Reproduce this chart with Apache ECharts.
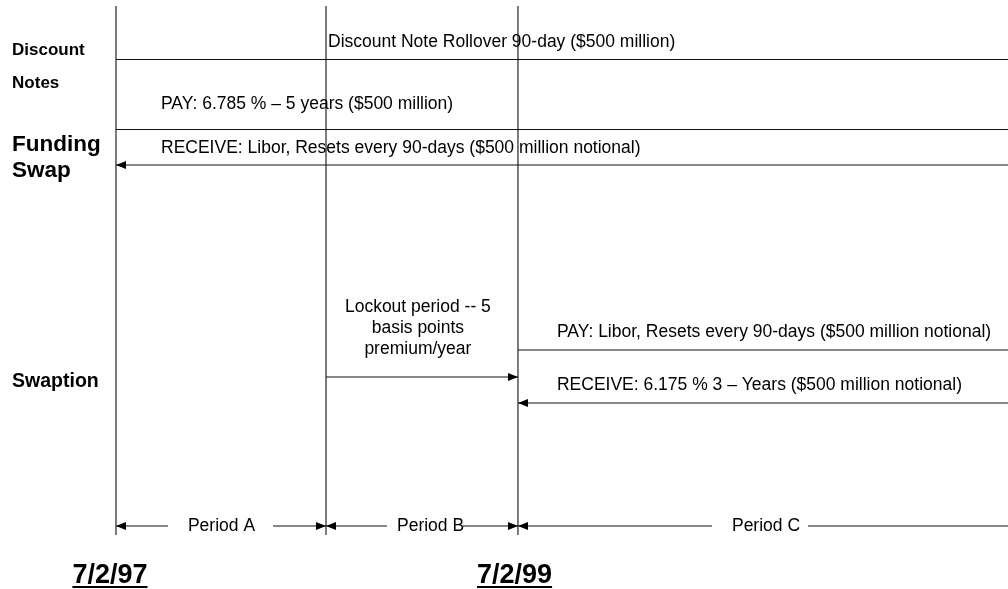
<!DOCTYPE html>
<html>
<head>
<meta charset="utf-8">
<script src="https://cdn.jsdelivr.net/npm/echarts@6/dist/echarts.min.js"></script>
<style>
  html, body { margin: 0; padding: 0; background: #fff; }
  #main { width: 1008px; height: 589px; }
</style>
</head>
<body>
<div id="main"></div>
<script>
// x: years after 7/2/97, y: row position from top of the diagram
var xMin = -0.577, xMax = 4.438;
var yTop = 0, yBottom = 589;

var timeMarks = [0, 1.045, 2];          // 7/2/97, end of period A, 7/2/99
var markTop = 6, markBottom = 535;

// plain segments [x1, y1, x2, y2]
var plainLines = [
    [0, 59.5, xMax, 59.5],              // discount notes
    [0, 129.5, xMax, 129.5],            // funding swap pay
    [2, 350, xMax, 350],                // swaption pay
    [3.443, 526, xMax, 526]             // period C right part
];
// arrows, head at (x2, y2)
var arrowLines = [
    [xMax, 165, 0, 165],                // funding swap receive
    [1.045, 377, 2, 377],               // lockout
    [xMax, 403, 2, 403],                // swaption receive
    [0.259, 526, 0, 526],
    [0.781, 526, 1.045, 526],
    [1.348, 526, 1.045, 526],
    [1.726, 526, 2, 526],
    [2.965, 526, 2, 526]
];

var rowLabels = ['Discount', 'Notes', 'Funding', 'Swap', 'Swaption'];
var rowLabelY = [50, 83, 145, 171, 382];
var rowLabelSize = [17, 17, 22.5, 22.5, 19.5];
var rowLabelX = -0.517;

// [x, y, text, align]
var notes = [
    [1.055, 42.5, 'Discount Note Rollover 90-day ($500 million)', 'left'],
    [0.224, 104, 'PAY: 6.785 % \u2013 5 years ($500 million)', 'left'],
    [0.224, 148, 'RECEIVE: Libor, Resets every 90-days ($500 million notional)', 'left'],
    [1.502, 307, 'Lockout period -- 5', 'center'],
    [1.502, 328, 'basis points', 'center'],
    [1.502, 349, 'premium/year', 'center'],
    [2.194, 332, 'PAY: Libor, Resets every 90-days ($500 million notional)', 'left'],
    [2.194, 385.5, 'RECEIVE: 6.175 % 3 \u2013 Years ($500 million notional)', 'left'],
    [0.525, 526, 'Period A', 'center'],
    [1.565, 526, 'Period B', 'center'],
    [3.234, 526, 'Period C', 'center']
];

var dateLabels = ['7/2/97', '7/2/99'];
var dateX = [-0.03, 1.983];
var dateY = 576;

var FONT = '"Liberation Sans", Arial, sans-serif';
var ink = '#111';

var segData = [];
timeMarks.forEach(function (x) { segData.push([x, markTop, x, markBottom, 0]); });
plainLines.forEach(function (s) { segData.push(s.concat([0])); });
arrowLines.forEach(function (s) { segData.push(s.concat([1])); });

var textData = [];
rowLabels.forEach(function (t, i) {
    textData.push({ value: [rowLabelX, rowLabelY[i]], text: t, font: 'bold ' + rowLabelSize[i] + 'px ' + FONT, align: 'left' });
});
notes.forEach(function (n) {
    textData.push({ value: [n[0], n[1]], text: n[2], font: '17.5px ' + FONT, align: n[3] });
});
dateLabels.forEach(function (t, i) {
    textData.push({ value: [dateX[i], dateY], text: t, font: 'bold 27px ' + FONT, align: 'center', underline: true });
});

var measureCtx = document.createElement('canvas').getContext('2d');

var myChart = echarts.init(document.getElementById('main'));

option = {
    animation: false,
    grid: { left: 0, right: 0, top: 0, bottom: 0 },
    xAxis: { type: 'value', min: xMin, max: xMax, show: false },
    yAxis: { type: 'value', min: yTop, max: yBottom, inverse: true, show: false },
    series: [{
        type: 'custom',
        data: segData,
        clip: false,
        renderItem: function (params, api) {
            var p1 = api.coord([api.value(0), api.value(1)]);
            var p2 = api.coord([api.value(2), api.value(3)]);
            var children = [{
                type: 'line',
                shape: { x1: p1[0], y1: p1[1], x2: p2[0], y2: p2[1] },
                style: { stroke: ink, lineWidth: 1.1 }
            }];
            if (api.value(4)) {
                var dx = p2[0] - p1[0], dy = p2[1] - p1[1];
                var len = Math.sqrt(dx * dx + dy * dy);
                var ux = dx / len, uy = dy / len;
                var hl = 10, hw = 4;
                var bx = p2[0] - ux * hl, by = p2[1] - uy * hl;
                children.push({
                    type: 'polygon',
                    shape: { points: [[p2[0], p2[1]], [bx - uy * hw, by + ux * hw], [bx + uy * hw, by - ux * hw]] },
                    style: { fill: '#000' }
                });
            }
            return { type: 'group', children: children };
        }
    }, {
        type: 'custom',
        data: textData,
        clip: false,
        renderItem: function (params, api) {
            var d = textData[params.dataIndex];
            var p = api.coord(d.value);
            var children = [{
                type: 'text',
                x: p[0], y: p[1],
                style: { text: d.text, font: d.font, fill: '#000', align: d.align, verticalAlign: 'middle' }
            }];
            if (d.underline) {
                measureCtx.font = d.font;
                var w = measureCtx.measureText(d.text).width;
                children.push({
                    type: 'rect',
                    shape: { x: p[0] - w / 2, y: p[1] + 10, width: w, height: 2 },
                    style: { fill: '#000' }
                });
            }
            return { type: 'group', children: children };
        }
    }]
};

myChart.setOption(option);
</script>
</body>
</html>
